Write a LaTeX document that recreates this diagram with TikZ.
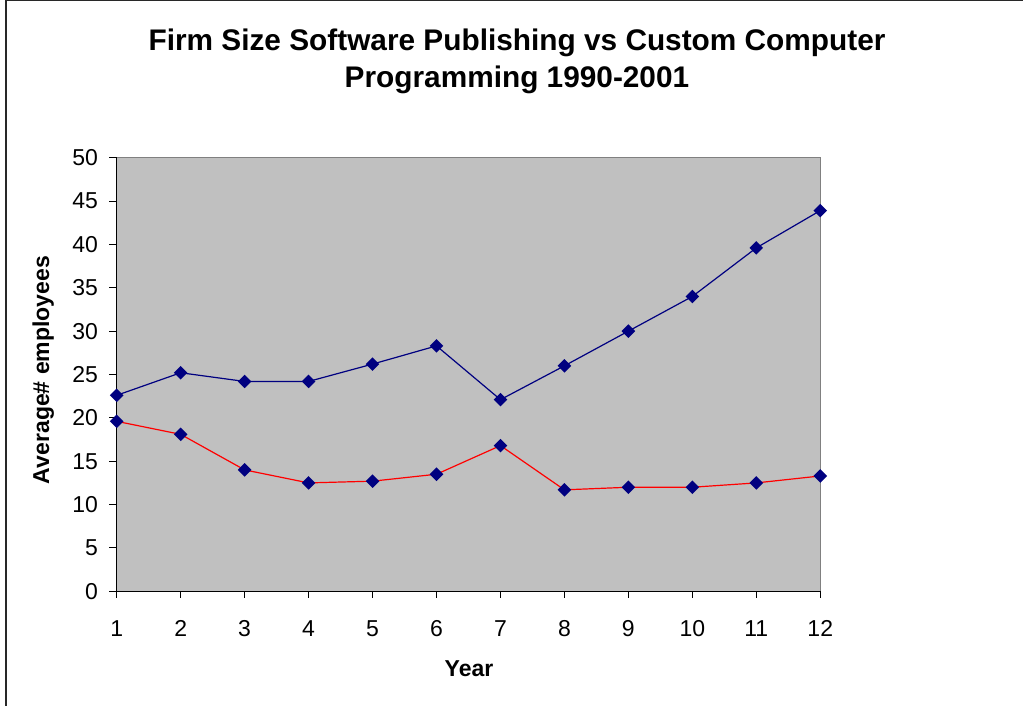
\documentclass[tikz,border=0pt]{standalone}
\usepackage{fontspec}
\setmainfont{Liberation Sans}
\definecolor{seriesnavy}{RGB}{0,0,128}
\definecolor{seriesred}{RGB}{255,0,0}
\definecolor{plotgray}{RGB}{192,192,192}
\definecolor{framegray}{RGB}{128,128,128}
\definecolor{chartframe}{RGB}{40,40,40}
\begin{document}
\begin{tikzpicture}[x=1pt,y=-1pt,
  titletext/.style={font=\fontsize{29.8}{36}\selectfont\bfseries,anchor=base,inner sep=0pt},
  axistitle/.style={font=\fontsize{23}{28}\selectfont\bfseries,anchor=base,inner sep=0pt},
  ticklabel/.style={font=\fontsize{23}{28}\selectfont,inner sep=0pt},
  seriesline/.style={line width=1.2pt,line join=round},
  diamondmark/.style={fill=seriesnavy,draw=none}]
\useasboundingbox (0,0) rectangle (1023,706);
\fill[white] (0,0) rectangle (1023,706);
% outer chart frame (only left and top edges fall inside the page)
\draw[chartframe,line width=1.2pt] (6,706) -- (6,0.6) -- (1023,0.6);

% titles
\node[titletext] (title1) at (517,51) {Firm Size Software Publishing vs Custom Computer};
\node[titletext] (title2) at (517,88) {Programming 1990-2001};
\node[axistitle,rotate=90] (ylab) at (49,370) {Average\# employees};
\node[axistitle] (xlab) at (469,676) {Year};

% plot area: year 1..12 horizontally, 0..50 employees vertically
\begin{scope}[xshift=116.7pt,yshift=-591.3pt,x=63.96pt,y=8.672pt]
  \fill[plotgray] (0,0) rectangle (11,50);
  \draw[framegray,line width=1pt] (0,50) -- (11,50) -- (11,0);
  \draw[black,line width=1.1pt] (0,50) -- (0,0) -- (11,0);
  \foreach \v in {0,5,...,50} {
    \draw[black,line width=1pt] (0,\v) -- ++(-7.5pt,0);
    \node[ticklabel,anchor=east] at ([xshift=-18.5pt]0,\v) {\v};
  }
  \foreach \i in {1,...,12} {
    \draw[black,line width=1pt] (\i-1,0) -- ++(0,-7pt);
    \node[ticklabel,anchor=base] at ([yshift=-44.7pt]\i-1,0) {\i};
  }
  % custom computer programming
  \draw[seriesline,seriesnavy] plot coordinates {(0,22.6) (1,25.2) (2,24.2) (3,24.2) (4,26.2) (5,28.3) (6,22.1) (7,26.0) (8,30.0) (9,34.0) (10,39.6) (11,43.9)};
  % software publishing
  \draw[seriesline,seriesred] plot coordinates {(0,19.6) (1,18.1) (2,14.0) (3,12.5) (4,12.7) (5,13.5) (6,16.8) (7,11.7) (8,12.0) (9,12.0) (10,12.5) (11,13.3)};
  \foreach \p in {(0,22.6),(1,25.2),(2,24.2),(3,24.2),(4,26.2),(5,28.3),(6,22.1),(7,26.0),(8,30.0),(9,34.0),(10,39.6),(11,43.9),
                  (0,19.6),(1,18.1),(2,14.0),(3,12.5),(4,12.7),(5,13.5),(6,16.8),(7,11.7),(8,12.0),(9,12.0),(10,12.5),(11,13.3)} {
    \fill[diamondmark] \p ++(0,6.8pt) -- ++(6.8pt,-6.8pt) -- ++(-6.8pt,-6.8pt) -- ++(-6.8pt,6.8pt) -- cycle;
  }
\end{scope}
\end{tikzpicture}
\end{document}
